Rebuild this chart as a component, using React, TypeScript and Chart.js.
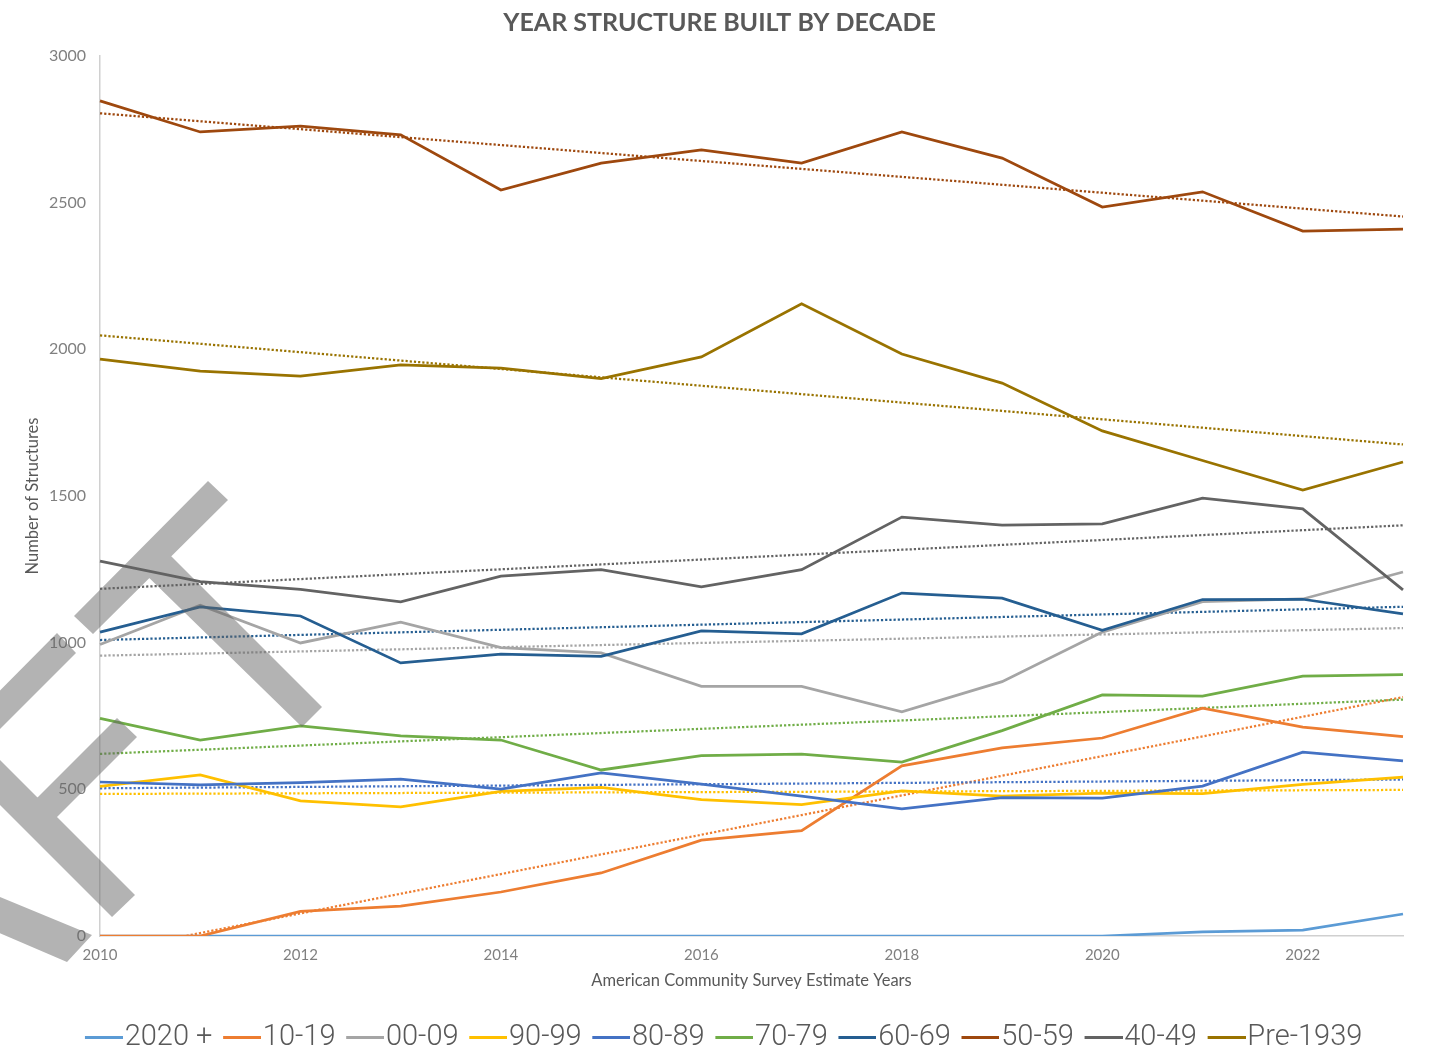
import { useEffect, useRef } from 'react';
import { Chart, registerables } from 'chart.js';

Chart.register(...registerables);

// ---- Data ----
const YEARS = ['2010', '2011', '2012', '2013', '2014', '2015', '2016', '2017', '2018', '2019', '2020', '2021', '2022', '2023'];

const SERIES_NAMES = ['2020 +', '10-19', '00-09', '90-99', '80-89', '70-79', '60-69', '50-59', '40-49', 'Pre-1939'];
const SERIES_COLORS = ['#5B9BD5', '#ED7D31', '#A5A5A5', '#FFC000', '#4472C4', '#70AD47', '#255E91', '#9E480E', '#636363', '#997300'];
const HAS_TREND = [false, true, true, true, true, true, true, true, true, true];

const V_2020_PLUS = [0, 0, 0, 0, 0, 0, 0, 0, 0, 0, 0, 14, 20, 75];
const V_10_19 = [0, 0, 84, 102, 150, 215, 327, 359, 580, 641, 675, 777, 712, 680];
const V_00_09 = [994, 1128, 999, 1070, 983, 965, 851, 851, 764, 867, 1036, 1140, 1149, 1241];
const V_90_99 = [510, 549, 461, 440, 493, 507, 465, 448, 495, 477, 487, 485, 517, 542];
const V_80_89 = [525, 515, 523, 535, 501, 556, 518, 477, 433, 472, 470, 511, 627, 597];
const V_70_79 = [742, 668, 716, 682, 668, 566, 615, 620, 593, 700, 822, 818, 886, 891];
const V_60_69 = [1036, 1122, 1091, 931, 961, 953, 1040, 1030, 1169, 1152, 1042, 1147, 1148, 1098];
const V_50_59 = [2847, 2741, 2761, 2731, 2543, 2635, 2680, 2635, 2741, 2652, 2485, 2537, 2403, 2410];
const V_40_49 = [1278, 1208, 1182, 1139, 1227, 1249, 1190, 1249, 1428, 1401, 1405, 1493, 1456, 1180];
const V_PRE_1939 = [1967, 1926, 1909, 1947, 1936, 1900, 1974, 2155, 1984, 1885, 1722, 1621, 1520, 1616];

const SERIES_VALUES = [V_2020_PLUS, V_10_19, V_00_09, V_90_99, V_80_89, V_70_79, V_60_69, V_50_59, V_40_49, V_PRE_1939];

const Y_MIN = 0;
const Y_MAX = 3000;
const Y_STEP = 500;

const TITLE = 'YEAR STRUCTURE BUILT BY DECADE';
const X_TITLE = 'American Community Survey Estimate Years';
const Y_TITLE = 'Number of Structures';

// Watermark decoration (partial rotated "DRAFT" letters), canvas pixel polygons
const WATERMARK_POLYS: number[][][] = [
  [[208, 481], [228, 500], [93, 634], [74, 616]],
  [[160, 545], [322, 707], [302, 727], [138, 567]],
  [[57, 633], [76, 653], [-40, 769], [-59, 750]],
  [[-30, 730], [135, 895], [112, 917], [-30, 775]],
  [[30, 805], [117, 718], [137, 737], [44.5, 829.5]],
  [[-10, 893], [92, 935], [67, 962], [-10, 929]],
];

// Linear least-squares trendline (like Excel's linear trendline)
function linearTrend(values: number[]): number[] {
  const n = values.length;
  let sx = 0, sy = 0, sxx = 0, sxy = 0;
  values.forEach((v, i) => { sx += i; sy += v; sxx += i * i; sxy += i * v; });
  const slope = (n * sxy - sx * sy) / (n * sxx - sx * sx);
  const icpt = (sy - slope * sx) / n;
  return values.map((_, i) => icpt + slope * i);
}

// Legend marker: 38px line sitting in the right part of a wider transparent image
const MARK_W = 33.5;
function legendMarker(color: string): HTMLCanvasElement {
  const c = document.createElement('canvas');
  const iw = Math.round(MARK_W + 25);
  c.width = iw;
  c.height = 3;
  const g = c.getContext('2d')!;
  g.fillStyle = color;
  g.fillRect(iw - 38, 0, 38, 3);
  return c;
}

const watermarkPlugin = {
  id: 'watermark',
  afterDraw(chart: any) {
    const ctx = chart.ctx;
    ctx.save();
    ctx.beginPath();
    WATERMARK_POLYS.forEach((poly) => {
      ctx.moveTo(poly[0][0], poly[0][1]);
      for (let i = 1; i < poly.length; i++) ctx.lineTo(poly[i][0], poly[i][1]);
      ctx.closePath();
    });
    ctx.fillStyle = 'rgba(100,100,100,0.49)';
    ctx.fill('nonzero');
    ctx.restore();
  },
};

export default function App() {
  const canvasRef = useRef<HTMLCanvasElement | null>(null);

  useEffect(() => {
    if (!canvasRef.current) return;
    const n = SERIES_NAMES.length;
    const seriesSets = SERIES_NAMES.map((name, i) => ({
      label: name,
      data: SERIES_VALUES[i],
      borderColor: SERIES_COLORS[i],
      backgroundColor: SERIES_COLORS[i],
      borderWidth: 2.75,
      pointRadius: 0,
      tension: 0,
      order: n - i,
    }));
    const trendSets = SERIES_NAMES.map((name, i) => ({ name, i }))
      .filter((s) => HAS_TREND[s.i])
      .map((s) => ({
        label: 'Linear (' + s.name + ')',
        data: linearTrend(SERIES_VALUES[s.i]),
        borderColor: SERIES_COLORS[s.i],
        backgroundColor: SERIES_COLORS[s.i],
        borderWidth: 2.25,
        borderDash: [2.2, 2],
        pointRadius: 0,
        tension: 0,
        order: 100 - s.i,
      }));

    const markers = SERIES_COLORS.map((c) => legendMarker(c));

    const chart = new Chart(canvasRef.current, {
      type: 'line',
      data: { labels: YEARS, datasets: [...seriesSets, ...trendSets] as any },
      options: {
        responsive: false,
        animation: false,
        events: [],
        layout: { padding: { left: 9, right: 0, top: 0, bottom: -7 } },
        plugins: {
          tooltip: { enabled: false },
          title: {
            display: true,
            text: TITLE,
            color: '#595959',
            font: { family: 'Lato', size: 25, weight: 'bold', lineHeight: 1.2 },
            padding: { top: 8.3, bottom: 17.7 },
          },
          legend: {
            display: true,
            position: 'bottom',
            labels: {
              color: '#595959',
              font: { family: 'Roboto', size: 29, weight: '300' },
              usePointStyle: true,
              pointStyleWidth: MARK_W,
              padding: 2.4,
              sort: (a: any, b: any) => a.datasetIndex - b.datasetIndex,
              generateLabels: (ch: any) => {
                const items = (Chart as any).defaults.plugins.legend.labels.generateLabels(ch);
                return items
                  .filter((it: any) => it.datasetIndex < n)
                  .map((it: any) => ({ ...it, pointStyle: markers[it.datasetIndex], lineWidth: 0 }));
              },
            },
          },
        },
        scales: {
          x: {
            type: 'category',
            grid: { display: false, drawTicks: false },
            border: { display: true, color: '#d0d0d0', width: 1.5 },
            ticks: {
              color: '#808080',
              font: { family: 'Lato', size: 15 },
              padding: 10,
              autoSkip: false,
              maxRotation: 0,
              callback: (_v: any, i: number) => (i % 2 === 0 ? YEARS[i] : ''),
            },
            title: {
              display: true,
              text: X_TITLE,
              color: '#595959',
              font: { family: 'Lato', size: 16.5, lineHeight: 1.2 },
              padding: { top: 0, bottom: 29.7 },
            },
            afterFit: (scale: any) => { scale.height = 84.6; },
          },
          y: {
            min: Y_MIN,
            max: Y_MAX,
            grid: { display: false, drawTicks: false },
            border: { display: true, color: '#d0d0d0', width: 1.5 },
            ticks: {
              stepSize: Y_STEP,
              color: '#808080',
              font: { family: 'Lato', size: 16 },
              padding: 14,
              callback: (v: any) => String(v),
            },
            title: {
              display: true,
              text: Y_TITLE,
              color: '#595959',
              font: { family: 'Lato', size: 16.5, lineHeight: 1.2 },
              padding: { top: 14.1, bottom: 0 },
            },
            afterFit: (scale: any) => { scale.width = 91; },
          },
          yRight: {
            position: 'right',
            display: true,
            grid: { display: false, drawTicks: false },
            border: { display: false },
            ticks: { display: false },
            afterFit: (scale: any) => { scale.width = 27; },
          },
        },
      },
      plugins: [watermarkPlugin],
    } as any);

    return () => chart.destroy();
  }, []);

  return (
    <div style={{ position: 'fixed', left: 0, top: 0, width: 1430, height: 1055, background: '#fff' }}>
      <canvas ref={canvasRef} width={1430} height={1055} style={{ display: 'block' }} />
    </div>
  );
}
